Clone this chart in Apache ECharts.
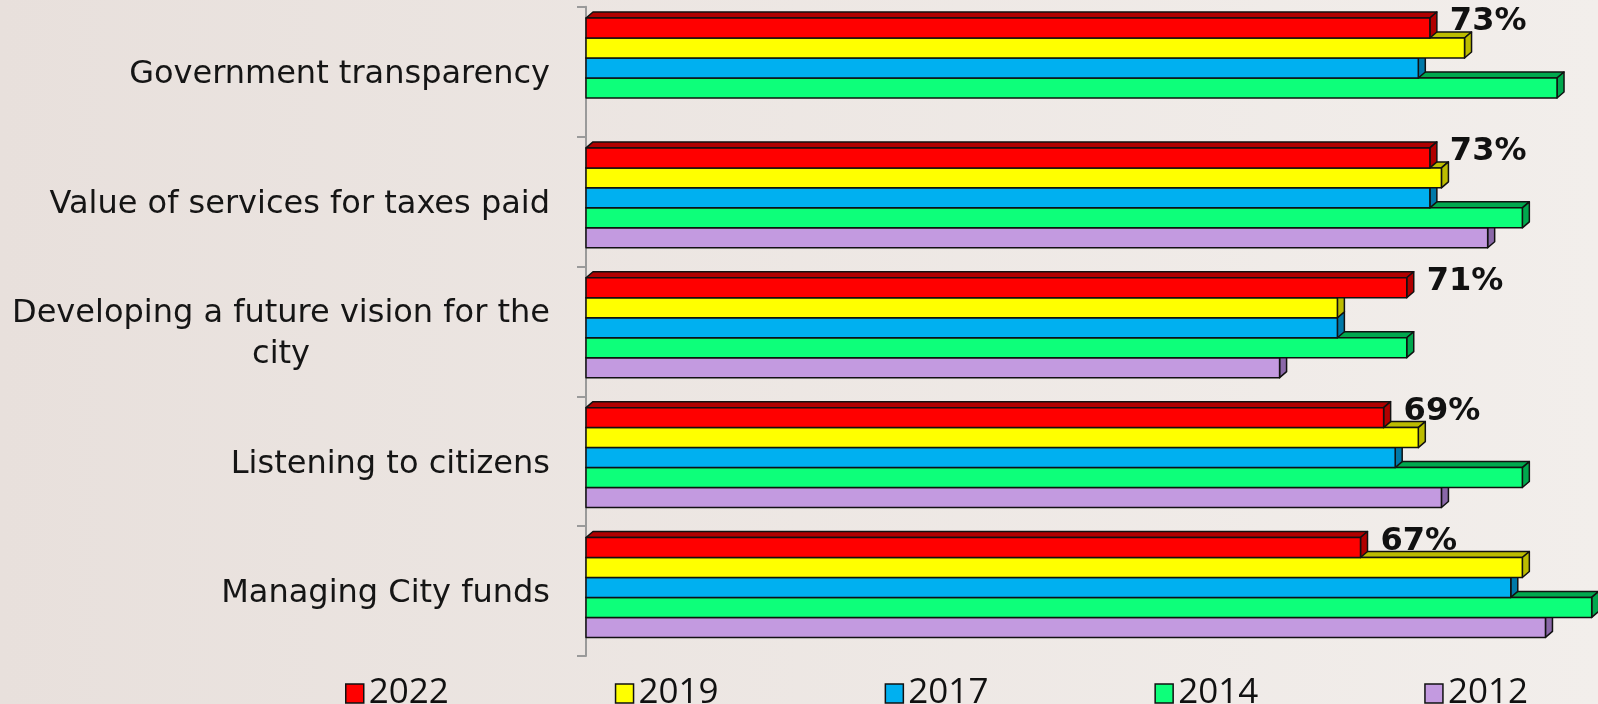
<!DOCTYPE html>
<html>
<head>
<meta charset="utf-8">
<style>
  html, body { margin: 0; padding: 0; }
  #main { width: 1598px; height: 704px; }
</style>
<script src="https://cdn.jsdelivr.net/npm/echarts@6/dist/echarts.min.js"></script>
</head>
<body>
<div id="main"></div>
<script>
// data
var categories = [
    'Government transparency',
    'Value of services for taxes paid',
    'Developing a future vision for the\ncity',
    'Listening to citizens',
    'Managing City funds'
];
var years = ['2022', '2019', '2017', '2014', '2012'];
var v2022 = [73, 73, 71, 69, 67];
var v2019 = [76, 74, 65, 72, 81];
var v2017 = [72, 73, 65, 70, 80];
var v2014 = [84, 81, 71, 81, 87];
var v2012 = [null, 78, 60, 74, 83];

var values = [v2022, v2019, v2017, v2014, v2012];
var colors = ['#ff0000', '#ffff00', '#00b0f0', '#0dff7a', '#c39ae0'];
var shades = ['#b00000', '#bcbc00', '#0079a8', '#00a84e', '#8a68a8'];

// 3d depth of the bars
var DX = 7, DY = 6;

function makeRender(si) {
    return function (params, api) {
        var cat = api.value(1);
        var val = api.value(0);
        var start = api.coord([0, cat]);
        var end = api.coord([val, cat]);
        var band = api.size([0, 1])[1];
        var h = band * 20 / 130;
        var x0 = start[0], x1 = end[0];
        var y = end[1] - 2.5 * h - band * 0.028 + si * h;
        var stroke = { stroke: '#111', lineWidth: 1.5, lineJoin: 'round' };
        var children = [
            {
                type: 'polygon',
                shape: { points: [[x0, y], [x0 + DX, y - DY], [x1 + DX, y - DY], [x1, y]] },
                style: Object.assign({ fill: shades[si] }, stroke)
            },
            {
                type: 'polygon',
                shape: { points: [[x1, y], [x1 + DX, y - DY], [x1 + DX, y + h - DY], [x1, y + h]] },
                style: Object.assign({ fill: shades[si] }, stroke)
            },
            {
                type: 'rect',
                shape: { x: x0, y: y, width: x1 - x0, height: h },
                style: Object.assign({ fill: colors[si] }, stroke)
            }
        ];
        if (si === 0) {
            children.push({
                type: 'text',
                style: {
                    x: x1 + 20,
                    y: y + h / 2 - 6,
                    text: val + '%',
                    fill: '#111',
                    font: 'bold 32px "DejaVu Sans"',
                    textAlign: 'left',
                    textVerticalAlign: 'middle'
                }
            });
        }
        return { type: 'group', children: children };
    };
}

var series = years.map(function (yr, si) {
    var data = [];
    values[si].forEach(function (v, ci) {
        if (v !== null) data.push([v, ci]);
    });
    return {
        name: yr,
        type: 'custom',
        renderItem: makeRender(si),
        encode: { x: 0, y: 1 },
        itemStyle: { color: colors[si] },
        z: 10 - si,
        data: data
    };
});

var myChart = echarts.init(document.getElementById('main'));

var option = {
    animation: false,
    backgroundColor: {
        type: 'linear', x: 0, y: 0, x2: 1, y2: 0,
        colorStops: [
            { offset: 0, color: '#e8e0dc' },
            { offset: 1, color: '#f2eeeb' }
        ]
    },
    grid: { left: 586, top: 6.7, height: 649.3, width: 1005.7 },
    xAxis: {
        type: 'value',
        min: 0,
        max: 87,
        show: false
    },
    yAxis: {
        type: 'category',
        inverse: true,
        data: categories,
        offset: 5,
        axisLine: { show: true, lineStyle: { color: '#9a9a9a', width: 2 } },
        axisTick: { show: true, length: 9, lineStyle: { color: '#9a9a9a', width: 2 } },
        axisLabel: {
            margin: 31,
            padding: [6, 0, 0, 0],
            color: '#151515',
            fontFamily: 'DejaVu Sans',
            fontSize: 32,
            lineHeight: 41,
            formatter: function (name) {
                var lines = name.split('\n');
                if (lines.length === 1) return name;
                return lines.map(function (l, i) {
                    return '{' + (i ? 'c' : 'a') + '|' + l + '}';
                }).join('\n');
            },
            rich: {
                a: { fontFamily: 'DejaVu Sans', fontSize: 32, color: '#151515', lineHeight: 41 },
                c: { fontFamily: 'DejaVu Sans', fontSize: 32, color: '#151515', lineHeight: 41, align: 'center' }
            }
        }
    },
    legend: {
        data: years,
        left: 340,
        top: 671,
        icon: 'rect',
        itemWidth: 18,
        itemHeight: 19,
        itemGap: 166,
        itemStyle: { borderColor: '#111', borderWidth: 1.5 },
        textStyle: { fontFamily: 'Open Sans', fontSize: 35, color: '#111' }
    },
    series: series
};

myChart.setOption(option);
</script>
</body>
</html>
